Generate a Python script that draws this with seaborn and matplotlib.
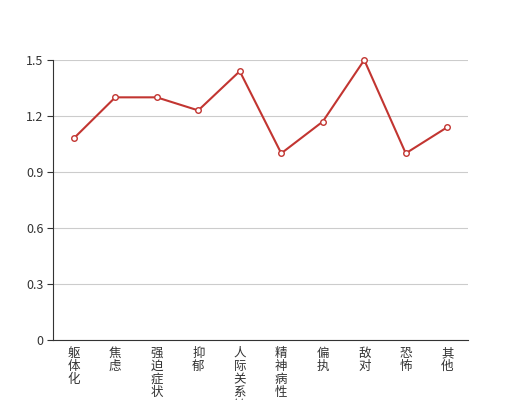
import seaborn as sns
import matplotlib.pyplot as plt
import numpy as np
import pandas as pd

categories = ["躯体化", "焦虑", "强迫症状", "抑郁", "人际关系敏感", "精神病性", "偏执", "敌对", "恐怖", "其他"]
values = [1.08, 1.30, 1.30, 1.23, 1.44, 1.00, 1.17, 1.50, 1.00, 1.14]
yticks = [0, 0.3, 0.6, 0.9, 1.2, 1.5]

sns.set_style("white")
plt.rcParams['font.family'] = ['Noto Sans CJK SC', 'DejaVu Sans']

df = pd.DataFrame({'cat': categories, 'val': values})
df['pos'] = np.arange(len(categories))

fig = plt.figure(figsize=(5.2, 4.0), dpi=100)
ax = fig.add_axes([53 / 520, 60 / 400, 415 / 520, 280 / 400])

sns.lineplot(data=df, x='pos', y='val', ax=ax, color='#c23531', linewidth=1.5,
             marker='o', markersize=4, markerfacecolor='white',
             markeredgecolor='#c23531', markeredgewidth=1, sort=False)
# keep the top marker visible
for ln in ax.lines:
    ln.set_clip_on(False)

ax.set_xlim(-0.5, len(categories) - 0.5)
ax.set_ylim(0, 1.5)
ax.set_yticks(yticks)
ax.set_yticklabels([f"{t:g}" for t in yticks])
ax.yaxis.grid(True, color='#cccccc', linewidth=0.8)
ax.set_axisbelow(True)

ax.set_xticks(df['pos'])
ax.set_xticklabels(["\n".join(c) for c in categories], linespacing=1.0)
ax.set_xticks(np.arange(-0.5, len(categories)), minor=True)
ax.tick_params(axis='x', which='major', length=0, pad=5, labelsize=9, colors='#333333')
ax.tick_params(axis='x', which='minor', length=4, width=0.8, color='#333333', direction='out')
ax.tick_params(axis='y', length=4, width=0.8, direction='out', left=True, labelsize=9,
               colors='#333333', pad=3)

for s in ['top', 'right']:
    ax.spines[s].set_visible(False)
for s in ['left', 'bottom']:
    ax.spines[s].set_color('#333333')
    ax.spines[s].set_linewidth(0.8)

ax.set_xlabel('')
ax.set_ylabel('')

fig.savefig('out.png', dpi=100)
